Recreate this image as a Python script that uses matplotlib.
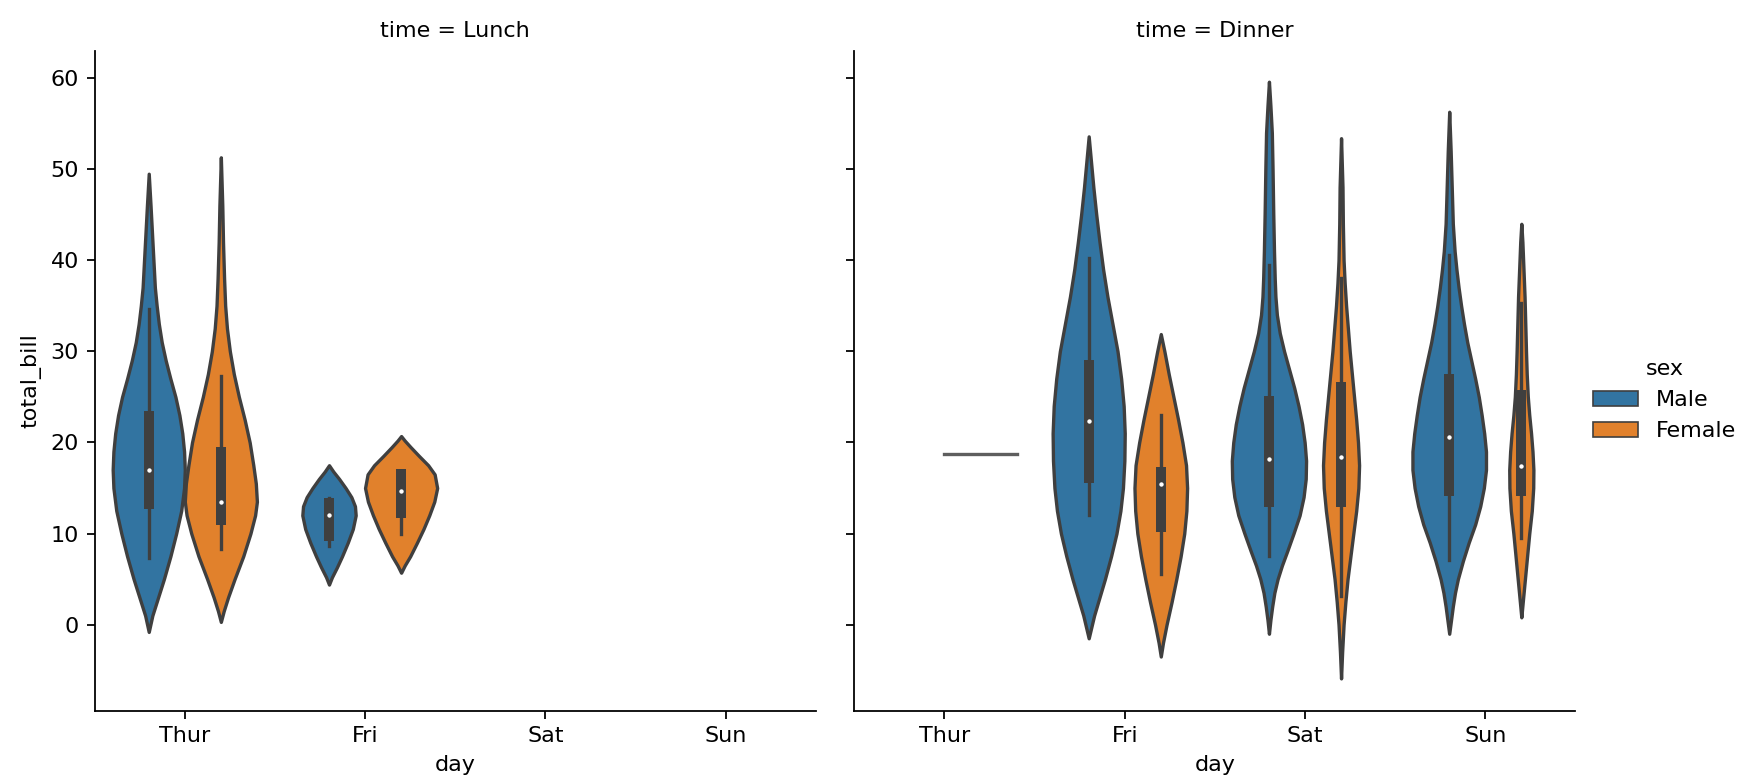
import matplotlib.pyplot as plt
from matplotlib.patches import Rectangle
import numpy as np

# Категории
days = ['Thur', 'Fri', 'Sat', 'Sun']
times = ['Lunch', 'Dinner']
sexes = ['Male', 'Female']
colors = {'Male': '#3274a1', 'Female': '#e1812c'}
gray = '#3f3f3f'

# Контуры скрипок: уровни total_bill и относительная ширина (1 = полная)
lunch_thur_male_bill = [-0.8, 1, 2.5, 5, 7.5, 10, 12.5, 15, 17, 19, 21, 23, 25, 27, 29, 31, 33, 35, 37, 40, 43, 46, 49.5]
lunch_thur_male_density = [0, .1, .22, .42, .6, .76, .9, .98, 1.0, .98, .93, .85, .74, .6, .47, .36, .28, .22, .17, .13, .09, .05, 0]

lunch_thur_female_bill = [0.3, 1.5, 3, 5, 7.5, 10, 12, 13.5, 15.5, 17.5, 20, 22.5, 25, 27.5, 30, 32.5, 35, 38, 42, 46, 51.3]
lunch_thur_female_density = [0, .08, .2, .38, .62, .82, .95, 1.0, .97, .9, .8, .66, .5, .36, .25, .17, .12, .09, .06, .04, 0]

lunch_fri_male_bill = [4.4, 5.2, 6.3, 7.5, 9, 10.5, 12, 13, 14, 15, 16, 16.8, 17.5]
lunch_fri_male_density = [0, .08, .22, .36, .52, .66, .74, .72, .62, .46, .28, .12, 0]

lunch_fri_female_bill = [5.7, 6.5, 7.5, 9, 10.5, 12, 13.5, 15, 16.5, 17.5, 18.5, 19.5, 20.2, 20.7]
lunch_fri_female_density = [0, .1, .25, .44, .62, .78, .92, 1.0, .93, .75, .5, .26, .1, 0]

dinner_fri_male_bill = [-1.5, 1, 3, 5, 7.5, 10, 12.5, 15, 18, 21, 24, 27, 30, 33, 36, 39, 42, 45, 48, 51, 53.6]
dinner_fri_male_density = [0, .15, .3, .45, .62, .77, .88, .95, .99, 1.0, .97, .9, .8, .66, .52, .4, .3, .21, .13, .06, 0]

dinner_fri_female_bill = [-3.5, -2, 0, 2.5, 5, 7.5, 10, 12.5, 15, 17.5, 20, 22.5, 25, 27.5, 30, 31.9]
dinner_fri_female_density = [0, .06, .16, .3, .43, .55, .65, .71, .73, .7, .6, .48, .35, .22, .1, 0]

dinner_sat_male_bill = [-1, 0.5, 2, 3.5, 5, 6.5, 8, 10, 12, 14, 16, 18, 20, 22, 24, 26, 28, 30, 32, 34, 36, 38, 41, 45, 50, 54, 57, 59.6]
dinner_sat_male_density = [0, .04, .09, .15, .24, .36, .5, .68, .85, .96, 1.02, 1.03, .99, .92, .82, .7, .56, .42, .3, .22, .18, .16, .14, .12, .1, .08, .04, 0]

dinner_sat_female_bill = [-5.9, -3, 0, 2.5, 5, 7.5, 10, 12.5, 15, 17.5, 20, 22.5, 25, 27.5, 30, 32.5, 35, 37.5, 40, 44, 48, 53.4]
dinner_sat_female_density = [0, .03, .07, .12, .18, .26, .34, .42, .48, .5, .47, .42, .36, .3, .24, .19, .14, .1, .07, .05, .04, 0]

dinner_sun_male_bill = [-1, 0.5, 2, 3.5, 5, 7, 9, 11, 13, 15, 17, 19, 21, 23, 25, 27, 29, 31, 33, 35, 37, 39, 41, 44, 48, 52, 56.3]
dinner_sun_male_density = [0, .05, .1, .16, .24, .38, .54, .72, .86, .96, 1.02, 1.02, .97, .9, .82, .72, .61, .5, .41, .33, .26, .2, .15, .1, .07, .04, 0]

dinner_sun_female_bill = [0.8, 2.5, 5, 7.5, 10, 12.5, 15, 17, 19, 21, 23, 25, 27.5, 30, 33, 36, 39, 42, 44]
dinner_sun_female_density = [0, .04, .1, .16, .22, .29, .33, .335, .31, .27, .22, .18, .15, .13, .11, .09, .06, .03, 0]

# Ящики: [нижний ус, q1, медиана, q3, верхний ус]
lunch_thur_male_box = [7.3, 13.2, 17.0, 22.9, 34.7]
lunch_thur_female_box = [8.3, 11.5, 13.5, 18.9, 27.3]
lunch_fri_male_box = [8.6, 9.7, 12.0, 13.3, 13.9]
lunch_fri_female_box = [10.0, 12.3, 14.7, 16.5, 16.5]
dinner_fri_male_box = [12.0, 16.1, 22.4, 28.5, 40.2]
dinner_fri_female_box = [5.6, 10.7, 15.4, 16.8, 23.0]
dinner_sat_male_box = [7.5, 13.5, 18.2, 24.6, 39.5]
dinner_sat_female_box = [3.1, 13.5, 18.4, 26.1, 38.0]
dinner_sun_male_box = [7.1, 14.7, 20.6, 27.0, 40.6]
dinner_sun_female_box = [9.5, 14.7, 17.4, 25.2, 35.3]

# Единственное наблюдение: ужин в четверг, женщина
dinner_thur_female_single = 18.78

violins = [
    ('Lunch', 'Thur', 'Male', lunch_thur_male_bill, lunch_thur_male_density, lunch_thur_male_box),
    ('Lunch', 'Thur', 'Female', lunch_thur_female_bill, lunch_thur_female_density, lunch_thur_female_box),
    ('Lunch', 'Fri', 'Male', lunch_fri_male_bill, lunch_fri_male_density, lunch_fri_male_box),
    ('Lunch', 'Fri', 'Female', lunch_fri_female_bill, lunch_fri_female_density, lunch_fri_female_box),
    ('Dinner', 'Fri', 'Male', dinner_fri_male_bill, dinner_fri_male_density, dinner_fri_male_box),
    ('Dinner', 'Fri', 'Female', dinner_fri_female_bill, dinner_fri_female_density, dinner_fri_female_box),
    ('Dinner', 'Sat', 'Male', dinner_sat_male_bill, dinner_sat_male_density, dinner_sat_male_box),
    ('Dinner', 'Sat', 'Female', dinner_sat_female_bill, dinner_sat_female_density, dinner_sat_female_box),
    ('Dinner', 'Sun', 'Male', dinner_sun_male_bill, dinner_sun_male_density, dinner_sun_male_box),
    ('Dinner', 'Sun', 'Female', dinner_sun_female_bill, dinner_sun_female_density, dinner_sun_female_box),
]

fig = plt.figure(figsize=(10.875, 4.89375), dpi=160)
ax_l = fig.add_axes([0.0544, 0.0923, 0.4144, 0.8429])
ax_r = fig.add_axes([0.4910, 0.0923, 0.4144, 0.8429], sharey=ax_l)
axes = {'Lunch': ax_l, 'Dinner': ax_r}

dwidth = 0.2
offsets = {'Male': -0.2, 'Female': 0.2}

for time, day, sex, bill, dens, box in violins:
    ax = axes[time]
    x = days.index(day) + offsets[sex]
    half = np.array(dens) * dwidth
    ax.fill_betweenx(bill, x - half, x + half, facecolor=colors[sex],
                     edgecolor=gray, linewidth=1.5)
    lo, q1, med, q3, hi = box
    ax.plot([x, x], [lo, hi], color=gray, linewidth=1.5)
    ax.plot([x, x], [q1, q3], color=gray, linewidth=4.5)
    ax.scatter(x, med, zorder=3, color='white', edgecolor=gray, s=9)

# одиночное наблюдение рисуется линией
x = days.index('Thur') + offsets['Female']
ax_r.plot([x - dwidth, x + dwidth], [dinner_thur_female_single] * 2,
          color='#5e5e5e', linewidth=1.5)

for time in times:
    ax = axes[time]
    ax.set_xlim(-0.5, 3.5)
    ax.set_xticks(range(len(days)))
    ax.set_xticklabels(days)
    ax.set_xlabel('day')
    ax.set_title('time = ' + time, fontsize=10)
    ax.spines['top'].set_visible(False)
    ax.spines['right'].set_visible(False)

ax_l.set_ylim(-9.45, 63.0)
ax_l.set_yticks(range(0, 61, 10))
ax_l.set_ylabel('total_bill')
ax_r.tick_params(axis='y', labelleft=False)

handles = [Rectangle((0, 0), 0, 0, facecolor=colors[s], edgecolor=gray, linewidth=0.75)
           for s in sexes]
fig.legend(handles, sexes, title='sex', loc='center left',
           bbox_to_anchor=(0.9043, 0.489), frameon=False)

plt.savefig('out.png', dpi=160)
